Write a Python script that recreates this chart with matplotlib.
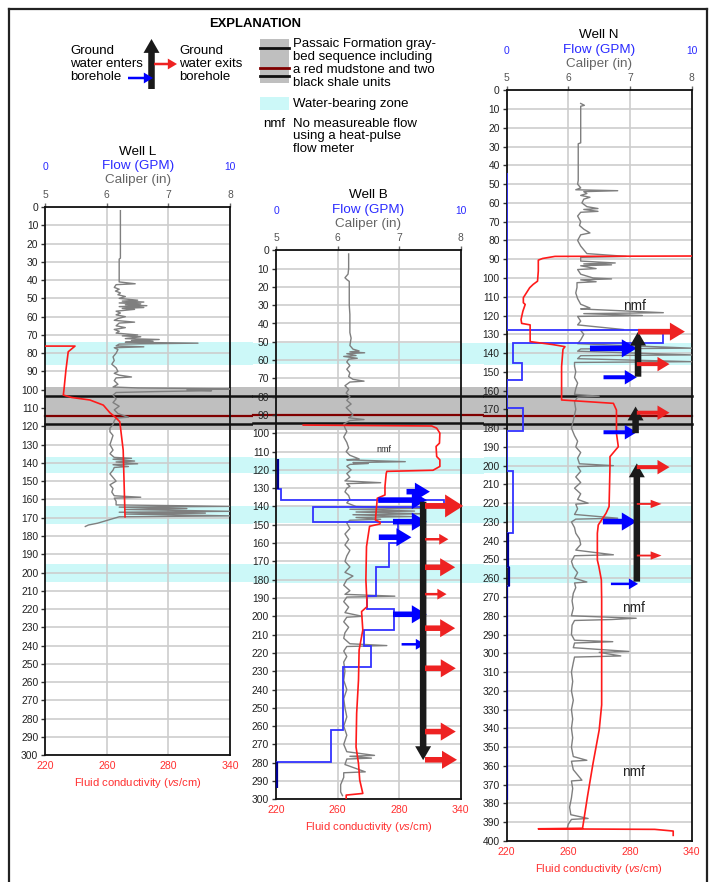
import numpy as np
import matplotlib.pyplot as plt
from matplotlib.patches import Rectangle
from matplotlib.ticker import NullLocator

plt.rcParams['font.family'] = ['Liberation Sans', 'DejaVu Sans']
plt.rcParams['mathtext.fontset'] = 'custom'
plt.rcParams['mathtext.it'] = 'Liberation Sans:italic'
plt.rcParams['mathtext.rm'] = 'Liberation Sans'

W, H = 715, 882

# ---------------- data (depth in ft) ----------------
cal_ticks = [5, 6, 7, 8]
cond_ticks = [220, 260, 280, 340]
flow_ticks = [0, 10]

# caliper (depth, inches)
wellL_caliper = np.array([
    (2, 6.22), (28, 6.22), (28.5, 6.20), (41, 6.20), (42, 6.46), (42.5, 6.15), (44, 6.12), (45, 6.2),
    (46, 6.14), (47, 6.22), (48, 6.18), (49, 6.3), (50, 6.2), (51, 6.5), (51.5, 6.25), (52, 6.6),
    (52.5, 6.2), (53, 6.55), (53.5, 6.3), (54, 6.65), (54.5, 6.2), (55, 6.6), (55.5, 6.25), (56, 6.45),
    (57, 6.15), (58, 6.22), (59, 6.15), (60, 6.3), (61, 6.18), (62, 6.12), (63, 6.45), (63.5, 6.2),
    (65, 6.15), (66, 6.3), (67, 6.12), (68, 6.2), (69, 6.15), (70, 6.5), (70.5, 6.25), (71, 6.55),
    (72, 6.3), (72.5, 6.85), (73, 6.4), (73.5, 6.75), (74, 6.3), (74.5, 7.48), (75, 6.2), (76, 6.15),
    (76.5, 6.6), (77, 6.12), (78, 6.18), (80, 6.15), (82, 6.1), (84, 6.12), (86, 6.08), (88, 6.15),
    (90, 6.18), (91, 6.12), (92, 6.2), (93, 6.4), (93.5, 6.15), (95, 6.12), (97, 6.18), (98.5, 6.1),
    (99, 6.5), (99.5, 8.0), (100, 7.3), (100.5, 7.7), (101, 6.8), (101.5, 6.15), (103, 6.1), (105, 6.15),
    (107, 6.1), (109, 6.2), (111, 6.12), (113, 6.18), (115, 6.35), (115.5, 6.15), (117, 6.12), (119, 6.1),
    (121, 6.05), (123, 6.05), (125, 6.1), (127, 6.08), (130, 6.05), (133, 6.1), (135, 6.05), (137, 6.12),
    (137.5, 6.4), (138, 6.1), (139, 6.45), (139.5, 6.15), (140.5, 6.5), (141, 6.1), (142, 6.35),
    (142.5, 6.12), (144, 6.1), (146, 6.05), (148, 6.1), (150, 6.15), (152, 6.05), (154, 6.1), (156, 6.08),
    (158, 6.12), (158.8, 6.55), (159.3, 6.12), (161, 6.15), (163, 6.15), (163.8, 8.0), (164.2, 6.2),
    (165, 7.3), (165.5, 6.3), (166.5, 8.0), (167, 6.2), (167.5, 7.6), (168, 6.3), (169, 8.0), (169.5, 6.2),
    (170.5, 6.1), (172, 5.95), (173, 5.85), (174, 5.7), (174.8, 5.65)])

wellB_caliper = np.array([
    (2, 6.18), (10, 6.18), (13, 6.17), (15, 6.12), (16, 6.15), (17, 6.19), (30, 6.19), (35, 6.2),
    (45, 6.2), (48, 6.22), (52, 6.2), (54, 6.25), (55, 6.35), (55.5, 6.2), (56, 6.44), (56.5, 6.15),
    (57.5, 6.3), (58, 6.1), (59, 6.32), (59.5, 6.18), (61, 6.15), (63, 6.2), (65, 6.15), (67, 6.2),
    (69, 6.18), (70.5, 6.25), (71.5, 6.43), (72, 6.2), (74, 6.12), (76, 6.18), (78, 6.14), (80, 6.2),
    (82, 6.15), (84, 6.22), (86, 6.14), (88, 6.2), (90, 6.25), (91.5, 6.18), (92.5, 6.43), (93, 6.2),
    (95, 6.1), (97, 6.12), (99, 6.15), (102, 6.1), (105, 6.15), (108, 6.18), (110, 6.14), (112, 6.2),
    (114, 6.35), (114.5, 6.15), (115.5, 7.1), (116, 6.25), (116.5, 6.5), (117, 6.2), (118, 6.15),
    (120, 6.22), (122, 6.15), (124, 6.2), (126, 6.12), (127, 6.7), (127.5, 6.15), (129, 6.2), (130, 6.15),
    (132, 6.12), (134, 6.18), (136, 6.2), (138, 6.15), (140, 6.3), (141, 7.35), (141.5, 6.2), (142.5, 7.25),
    (143, 6.3), (144, 7.4), (144.5, 6.25), (145.5, 7.2), (146, 6.3), (147, 6.7), (147.5, 6.2), (149, 6.15),
    (152, 6.2), (155, 6.12), (158, 6.18), (161, 6.12), (164, 6.2), (167, 6.15), (170, 6.12), (173, 6.2),
    (176, 6.12), (178, 6.25), (180, 6.15), (183, 6.1), (186, 6.2), (188, 6.12), (189, 6.93), (189.5, 6.15),
    (192, 6.1), (195, 6.18), (198, 6.12), (200, 6.4), (200.5, 6.15), (203, 6.1), (206, 6.18), (209, 6.12),
    (212, 6.1), (215, 6.2), (216, 6.8), (216.5, 6.15), (219, 6.1), (222, 6.15), (225, 6.1), (230, 6.12),
    (235, 6.1), (240, 6.15), (245, 6.1), (250, 6.12), (255, 6.15), (260, 6.1), (265, 6.15), (270, 6.1),
    (274, 6.15), (276, 6.6), (276.5, 6.2), (277.5, 6.55), (278, 6.15), (281, 6.12), (285, 6.45),
    (285.5, 6.1), (288, 6.1), (292, 6.05), (296, 6.05), (298, 6.08)])

wellN_caliper = np.array([
    (7, 6.2), (8, 6.26), (8.5, 6.2), (28, 6.2), (28.5, 6.16), (48, 6.16), (50, 6.15), (52, 6.2), (53, 6.12),
    (53.5, 6.8), (54, 6.25), (55, 6.3), (56, 6.2), (57, 6.35), (58, 6.25), (60, 6.22), (62, 6.3), (63, 6.48),
    (63.5, 6.25), (64.5, 6.48), (65, 6.2), (67, 6.15), (70, 6.2), (72, 6.18), (74, 6.25), (76, 6.35),
    (77, 6.2), (80, 6.15), (83, 6.2), (85, 6.25), (87, 6.3), (88.5, 6.94), (89, 6.2), (91, 6.2), (92, 6.76),
    (92.5, 6.25), (93, 6.7), (93.5, 6.2), (95, 6.45), (95.5, 6.15), (98, 6.2), (100, 6.4), (100.5, 6.7),
    (101, 6.2), (102, 6.45), (102.5, 6.14), (105, 6.14), (108, 6.12), (111, 6.15), (114, 6.2), (116, 6.35),
    (116.5, 6.2), (118.5, 7.54), (119, 6.25), (120, 7.2), (120.5, 6.15), (123, 6.2), (125, 6.15),
    (127.5, 6.9), (128, 6.2), (130, 6.25), (133, 6.2), (135, 6.15), (137.4, 8.0), (137.8, 6.2), (139, 6.15),
    (141, 8.0), (141.4, 6.2), (143, 6.15), (144.6, 8.0), (145, 6.1), (147, 6.1), (150, 6.12), (153, 6.1),
    (156, 6.15), (159, 6.12), (162, 6.1), (163, 6.5), (163.5, 6.15), (166, 6.1), (170, 6.12), (173, 6.1),
    (176, 6.08), (180, 6.05), (184, 6.1), (187, 6.15), (190, 6.12), (193, 6.2), (196, 6.15), (199, 6.18),
    (200, 6.73), (200.5, 6.15), (203, 6.2), (206, 6.12), (209, 6.2), (212, 6.1), (215, 6.2), (218, 6.15),
    (220, 6.32), (220.5, 6.12), (223, 6.15), (226, 6.1), (228, 6.8), (228.5, 6.12), (230, 6.05), (233, 6.1),
    (236, 6.12), (239, 6.18), (242, 6.2), (245, 6.12), (247.5, 6.73), (248, 6.1), (251, 6.05), (254, 6.08),
    (257, 6.15), (260, 6.1), (262, 6.3), (262.5, 6.1), (265, 6.12), (268, 6.08), (272, 6.06), (276, 6.08),
    (280, 6.05), (281.3, 7.1), (282, 6.7), (282.5, 6.1), (285, 6.06), (290, 6.05), (293, 6.1), (293.8, 6.72),
    (294.5, 6.1), (297, 6.08), (299, 6.98), (299.5, 6.5), (301.4, 6.85), (302, 6.1), (305, 6.08), (310, 6.05),
    (315, 6.07), (320, 6.05), (325, 6.08), (330, 6.05), (335, 6.07), (340, 6.05), (345, 6.07), (350, 6.05),
    (355, 6.08), (357, 6.3), (357.5, 6.05), (362, 6.08), (367.6, 6.22), (368, 6.05), (372, 6.07),
    (377, 6.05), (382, 6.02), (386, 6.04), (388, 6.32), (388.5, 6.05), (391, 6.0), (393.4, 5.98)])

# fluid conductivity (depth, uS/cm)
wellL_cond = np.array([
    (76.1, 220), (76.1, 239.3), (79.2, 234.9), (89.2, 233.4), (100.2, 232.1), (102.9, 231.7), (104.2, 237.1),
    (105.6, 249), (108.4, 257.7), (112.6, 261), (114.8, 262.6), (117.5, 264.2), (133, 265.3), (169.5, 265.9)])

wellB_cond = np.array([
    (95.5, 237.7), (96.0, 311.8), (97.2, 316.6), (99.9, 319.7), (105.4, 319.3), (107.2, 316), (112.7, 316.6),
    (114.5, 319.7), (118.1, 319.7), (120.2, 313), (120.8, 276), (122, 275.8), (129, 275.4), (133.7, 275.4),
    (135.5, 272.9), (147.4, 272.3), (148.5, 273.8), (149.5, 273.8), (150.8, 270.4), (161.9, 269.4),
    (180, 269.2), (194.7, 269.6), (197.4, 267.8), (207.5, 268.2), (218.4, 267), (234.8, 266.8), (253, 266.2),
    (271.4, 266), (280.5, 266.8), (289.5, 267.2), (296.8, 268.2), (297.7, 262.8), (300.4, 262.8)])

wellN_cond = np.array([
    (88.3, 340), (88.5, 251.3), (89.6, 243.3), (90.5, 240.5), (96.3, 240.5), (101.7, 240), (103.4, 237.2),
    (105.2, 234.9), (110.5, 230.8), (113.2, 230.8), (114.1, 232), (117.7, 230.5), (122.1, 229.3),
    (124.2, 229.7), (125, 235.2), (133.9, 235.2), (135.5, 250), (136.6, 257.8), (138, 256.5), (147.2, 255.6),
    (165, 255.6), (166.8, 274.6), (170.4, 275.6), (182.8, 275.6), (189.9, 276.2), (195.2, 273.5),
    (200.5, 273.5), (221.8, 273.2), (225.4, 272.2), (231.6, 269.7), (236, 269.4), (250.3, 269.4),
    (253.8, 269.9), (260.9, 270.7), (271.6, 270.8), (327.5, 270.8), (340.8, 270), (358.6, 268),
    (376.3, 266.2), (393.2, 264.6), (393.5, 240.5), (393.8, 304), (394.7, 322), (397, 322)])

# flow (GPM), step profile: edges in depth, one value per interval
wellB_flow_edges = [114, 130.4, 136.6, 140.5, 148.5, 160.2, 173, 189, 196, 207.3, 216.4, 227.9, 262, 279.4, 294]
wellB_flow = [0.1, 0.25, 9.1, 2.0, 6.6, 6.13, 5.4, 4.94, 6.4, 4.78, 5.14, 3.64, 2.96, 0.04]
wellN_flow_edges = [44, 127.7, 134.5, 145.4, 154.3, 169.4, 181.8, 202.6, 236, 253.8, 264.1, 378]
wellN_flow = [0, 8.46, 0.32, 0.81, 0, 0.9, 0, 0.32, 0.05, 0.15, 0]

# water-bearing zones (top, bottom)
wellL_zones = [(74, 86.4), (136.7, 145.4), (163.5, 173.5), (195.4, 205.3)]
wellB_zones = [(50.6, 62.4), (113.6, 122), (140, 149), (171.6, 181.6)]
wellN_zones = [(134.4, 146.5), (195.4, 203.9), (221.5, 230.5), (252.7, 262.5)]

# Passaic gray beds: (top, bottom, black shale 1, red mudstone, black shale 2)
wellL_passaic = (98.5, 122, 103.4, 114.2, 118.5)
wellB_passaic = (74.7, 98.2, 79.6, 90, 94.3)
wellN_passaic = (158.2, 181, 162.9, 173.4, 177.6)

# flow arrows: (depth, x from, x to, size) in caliper units
wellB_in = [(131.9, 7.12, 7.50, 'L'), (136.5, 6.66, 7.45, 'L'), (148.3, 6.90, 7.45, 'L'),
            (156.8, 6.67, 7.20, 'L'), (198.9, 6.90, 7.45, 'L'), (215.3, 7.04, 7.42, 'S')]
wellB_out = [(139.7, 7.42, 8.04, 'XL'), (157.9, 7.42, 7.80, 'S'), (173.2, 7.42, 7.91, 'L'),
             (187.9, 7.42, 7.77, 'S'), (206.5, 7.42, 7.91, 'L'), (228.4, 7.42, 7.92, 'L'),
             (263.0, 7.42, 7.92, 'L'), (278.4, 7.42, 7.94, 'L')]
wellB_vertical = [(7.39, 137.4, 278.6)]
wellN_in = [(137.5, 6.35, 7.11, 'L'), (152.9, 6.57, 7.11, 'M'), (182.2, 6.57, 7.11, 'M'),
            (229.8, 6.56, 7.11, 'L'), (263.0, 6.69, 7.13, 'S')]
wellN_out = [(128.6, 7.13, 7.89, 'L'), (145.9, 7.11, 7.64, 'M'), (171.8, 7.11, 7.64, 'M'),
             (200.8, 7.11, 7.64, 'M'), (220.4, 7.11, 7.51, 'T'), (247.9, 7.11, 7.51, 'T')]
wellN_vertical = [(7.13, 152.6, 128.6), (7.09, 182.7, 168.5), (7.11, 261.8, 198.8)]

# nmf labels (caliper x, depth, fontsize)
wellB_nmf = [(6.75, 109, 6.5)]
wellN_nmf = [(7.08, 115, 9.8), (7.05, 275.6, 9.8), (7.05, 363.5, 9.8)]

# ---------------- styles ----------------
CYAN = '#ccf8f8'
GRAY_BED = '#bfbfbf'
ARROWS = {  # head_width, head_length, tail_width, mutation scale
    'XL': (1.65, 1.3, 0.42, 10), 'L': (1.3, 1.08, 0.4, 10), 'M': (1.3, 1.08, 0.36, 8),
    'S': (1.3, 1.1, 0.3, 6), 'T': (1.0, 1.3, 0.22, 6), 'K': (1.15, 1.0, 0.47, 10)}


def cond_fwd(c):
    return np.interp(c, cond_ticks, [0, 1, 2, 3])


def cond_inv(x):
    return np.interp(x, [0, 1, 2, 3], cond_ticks)


def arrow(target, trans, x0, y0, x1, y1, color, size):
    hw, hl, tw, ms = ARROWS[size]
    target.annotate('', xy=(x1, y1), xytext=(x0, y0), xycoords=trans, textcoords=trans,
                    annotation_clip=False, zorder=8,
                    arrowprops=dict(arrowstyle=f'simple,head_length={hl},head_width={hw},tail_width={tw}',
                                    mutation_scale=ms, fc=color, ec='none', lw=0, shrinkA=0, shrinkB=0))


fig = plt.figure(figsize=(W / 100, H / 100), dpi=100)

# explanation + frame, drawn in pixel space
ov = fig.add_axes([0, 0, 1, 1])
ov.set_xlim(0, W)
ov.set_ylim(H, 0)
ov.axis('off')
ov.plot([8.5, 8.5], [8.5, H], color='#222222', lw=1.6)
ov.plot([8.5, 706.5], [8.5, 8.5], color='#222222', lw=1.6)
ov.plot([706.5, 706.5], [8.5, H], color='#222222', lw=1.6)
ov.text(255, 24, 'EXPLANATION', fontsize=9.4, fontweight='bold', ha='center', va='center')
arrow(ov, ov.transData, 151.5, 89, 151.5, 39, '#1a1a1a', 'K')
arrow(ov, ov.transData, 128, 78, 153, 78, '#0000ff', 'S')
arrow(ov, ov.transData, 154, 64, 177, 64, '#ee2222', 'S')
ls = 1.08
ov.text(70, 64, 'Ground\nwater enters\nborehole', fontsize=9.5, va='center', ha='left', linespacing=ls)
ov.text(179, 64, 'Ground\nwater exits\nborehole', fontsize=9.5, va='center', ha='left', linespacing=ls)
ov.add_patch(Rectangle((260, 39), 29, 44, fc=GRAY_BED, ec='none'))
ov.plot([260, 289], [48, 48], color='#111111', lw=2)
ov.plot([260, 289], [68, 68], color='#800000', lw=2)
ov.plot([260, 289], [76, 76], color='#111111', lw=2)
ov.text(293, 63.5, 'Passaic Formation gray-\nbed sequence including\na red mudstone and two\nblack shale units',
        fontsize=9.5, va='center', ha='left', linespacing=ls)
ov.add_patch(Rectangle((260, 97), 29, 13, fc=CYAN, ec='none'))
ov.text(293, 104, 'Water-bearing zone', fontsize=9.5, va='center', ha='left')
ov.text(263, 124, 'nmf', fontsize=9.5, va='center', ha='left')
ov.text(293, 136.5, 'No measureable flow\nusing a heat-pulse\nflow meter', fontsize=9.5, va='center',
        ha='left', linespacing=ls)


def draw_well(rect, name, depth_max, caliper, cond, zones, passaic, ext,
              flow_edges=None, flow=None, dark_below=0, arrows_in=(), arrows_out=(), vertical=(),
              nmf=()):
    ax = fig.add_axes(rect)
    ax.set_facecolor('none')
    ax_f = ax.twiny()
    ax_c = ax.twiny()
    ax.set_xlim(5, 8)
    ax.set_ylim(depth_max, 0)
    ax.set_xticks(cal_ticks)
    depth_ticks = np.arange(0, depth_max + 1, 10)
    ax.set_yticks(depth_ticks)
    ax.xaxis.tick_top()
    for d in depth_ticks:
        ax.axhline(d, color='#cdcdcd', lw=1.2, zorder=0.5)
    for c in cal_ticks[1:-1]:
        ax.axvline(c, color='#cdcdcd', lw=1.2, zorder=0.5)
    ax.tick_params(axis='y', length=3, width=1, color='#333333', labelsize=7.4, labelcolor='#222222', pad=2)
    ax.tick_params(axis='x', length=3, width=1, color='#666666', labelsize=7.4, labelcolor='#555555', pad=2)
    for s in ax.spines.values():
        s.set_linewidth(1.3)
        s.set_color('#111111')

    for t, b in zones:
        ax.axhspan(t, b, xmin=ext[0], xmax=ext[1], color=CYAN, lw=0, zorder=0.1, clip_on=False)
    top, bot, sh1, red, sh2 = passaic
    ax.axhspan(top, bot, xmin=ext[0], xmax=ext[1], color=GRAY_BED, lw=0, zorder=1, clip_on=False)
    ax.axhline(sh1, ext[0], ext[1], color='#111111', lw=1.8, zorder=1.2, clip_on=False)
    ax.axhline(sh2, ext[0], ext[1], color='#111111', lw=1.8, zorder=1.2, clip_on=False)
    ax.axhline(red, ext[0], ext[1], color='#800000', lw=1.6, zorder=1.2, clip_on=False)

    ax.plot(caliper[:, 1], caliper[:, 0], color='#7f7f7f', lw=1.0, zorder=3)

    # flow axis
    ax_f.set_xlim(0, 10)
    ax_f.set_xticks(flow_ticks)
    ax_f.tick_params(axis='x', length=0, labelsize=7.4, labelcolor='#2a2aff', pad=25)
    for s in ax_f.spines.values():
        s.set_visible(False)
    if flow is not None:
        ax_f.stairs(flow, flow_edges, orientation='horizontal', baseline=None, color='#3333ff', lw=1.3)
        for v, e0, e1 in zip(flow, flow_edges[:-1], flow_edges[1:]):
            if v < 0.2 and e0 >= dark_below:
                ax_f.vlines(v, e0, e1, color='#000090', lw=1.6)

    # fluid conductivity axis
    ax_c.set_xscale('function', functions=(cond_fwd, cond_inv))
    ax_c.set_xlim(220, 340)
    ax_c.set_xticks(cond_ticks)
    ax_c.xaxis.set_minor_locator(NullLocator())
    ax_c.xaxis.tick_bottom()
    ax_c.tick_params(axis='x', length=0, labelsize=7.6, labelcolor='#ff3030', pad=4)
    for s in ax_c.spines.values():
        s.set_visible(False)
    ax_c.plot(cond[:, 1], cond[:, 0], color='#ff1a1a', lw=1.2, zorder=3)

    tr = ax.transData
    for d, x0, x1, size in arrows_in:
        arrow(ax_c, tr, x0, d, x1, d, '#0000ff', size)
    for x, d0, d1 in vertical:
        arrow(ax_c, tr, x, d0, x, d1, '#1a1a1a', 'K')
    for d, x0, x1, size in arrows_out:
        arrow(ax_c, tr, x0, d, x1, d, '#ee2222', size)
    for x, d, fs in nmf:
        ax_c.text(x, d, 'nmf', transform=tr, fontsize=fs, ha='center', va='center', color='#222222', zorder=9)

    # headings
    heads = [(f'Well {name}', 55, 'black'), ('Flow (GPM)', 40.5, '#2a2aff'), ('Caliper (in)', 26.7, '#666666')]
    for txt, off, col in heads:
        ax.annotate(txt, xy=(0.5, 1), xycoords='axes fraction', xytext=(0, off * 0.72),
                    textcoords='offset points', ha='center', va='center', fontsize=9.7, color=col)
    ax.annotate(r'Fluid conductivity ($\mathit{vs}$/cm)', xy=(0.5, 0), xycoords='axes fraction',
                xytext=(0, -28 * 0.72), textcoords='offset points', ha='center', va='center',
                fontsize=8.1, color='#ff3030')
    return ax


draw_well([45.3 / W, 1 - 755.3 / H, 184.7 / W, 548.3 / H], 'L', 300, wellL_caliper, wellL_cond,
          wellL_zones, wellL_passaic, (0, 1.125))
draw_well([276 / W, 1 - 799.3 / H, 184.7 / W, 549 / H], 'B', 300, wellB_caliper, wellB_cond,
          wellB_zones, wellB_passaic, (-0.125, 1.125), wellB_flow_edges, wellB_flow, 0,
          wellB_in, wellB_out, wellB_vertical, wellB_nmf)
draw_well([506.7 / W, 1 - 841 / H, 185 / W, 750.7 / H], 'N', 400, wellN_caliper, wellN_cond,
          wellN_zones, wellN_passaic, (-0.125, 1.0), wellN_flow_edges, wellN_flow, 230,
          wellN_in, wellN_out, wellN_vertical, wellN_nmf)

fig.savefig('out.png', dpi=100)
